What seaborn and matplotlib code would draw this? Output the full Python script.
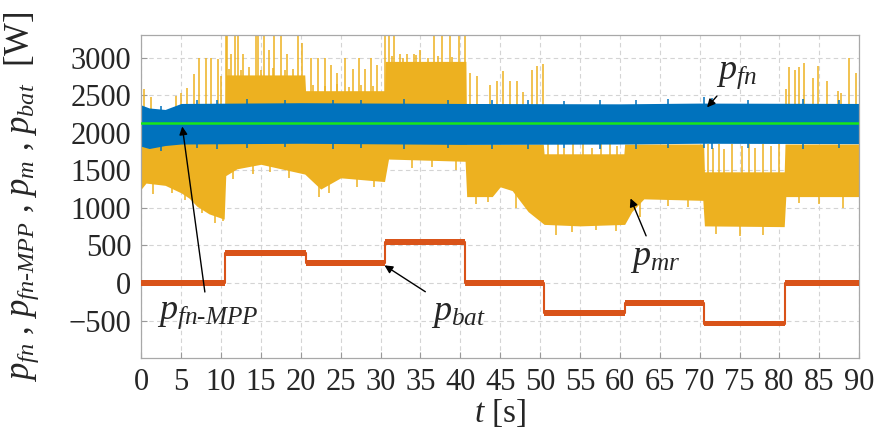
import numpy as np
import pandas as pd
import seaborn as sns
import matplotlib.pyplot as plt

# Values (time in s, power in W)
# battery power: step levels between switching instants
bat_t = [0, 10.5, 20.6, 30.5, 40.6, 50.5, 60.6, 70.6, 80.7, 90]
bat_level = [0, 400, 265, 545, 0, -400, -265, -540, 0, 0]
bat_noise = 35

# fuel-cell MPP reference
mpp_value = 2125

# fuel-cell power band (envelope of the noisy trace)
fn_t = [0, 1, 3, 5, 20, 40, 60, 70, 90]
fn_upper = [2370, 2330, 2310, 2390, 2400, 2390, 2385, 2395, 2390]
fn_lower = [1820, 1790, 1830, 1850, 1860, 1845, 1850, 1860, 1855]
# ragged edges of the fuel-cell band
fn_fuzz_t = [2.5, 7.0, 9.5, 13.2, 18.0, 24.0, 27.5, 33.0, 38.5, 44.0, 48.5, 53.0,
             57.5, 62.0, 66.0, 70.5, 71.5, 76.0, 83.0, 87.5]
fn_fuzz_top = [2350, 2430, 2440, 2450, 2430, 2440, 2430, 2450, 2440, 2440, 2430, 2420,
               2430, 2440, 2450, 2470, 2460, 2440, 2450, 2440]
fn_fuzz_bot = [1760, 1800, 1790, 1800, 1810, 1790, 1800, 1790, 1800, 1790, 1780, 1800,
               1790, 1780, 1800, 1800, 1790, 1800, 1790, 1800]

# motor power band (envelope of the noisy trace)
mr_t = [0, 0.6, 3, 5, 6, 7, 8.5, 10.4, 10.6, 12, 15, 20.5, 22.5, 25, 30.5, 31,
        40.6, 40.8, 44, 45, 46.5, 48.5, 50.5, 55, 60.6, 61.5, 63, 70.4, 70.6,
        80.6, 80.8, 90]
mr_lower = [1250, 1330, 1300, 1200, 1130, 1020, 920, 850, 1430, 1520, 1580, 1450,
            1250, 1400, 1350, 1650, 1620, 1150, 1150, 1280, 1230, 950, 780, 760,
            780, 950, 1120, 1100, 760, 750, 1150, 1150]
mr_up_t = [0, 10.5, 10.6, 20.5, 20.6, 30.5, 30.6, 40.7, 40.8, 50.4, 50.5, 60.5,
           60.6, 70.5, 70.6, 80.6, 80.7, 90]
mr_upper = [2250, 2250, 2770, 2770, 2560, 2560, 2950, 2950, 1850, 1850, 1720, 1720,
            1850, 1850, 1480, 1480, 1850, 1850]

# spikes of the motor power above the band
spike_t = [0.4, 1.25, 4.4, 5.0, 5.8, 6.6, 7.3, 8.1, 8.75, 9.6, 10.0,
           10.6, 10.8, 11.25, 11.7, 12.1, 12.7, 14.4, 14.7, 15.4, 16.0, 16.7, 17.5, 18.3, 19.6, 20.1,
           21.25, 22.1, 23.1, 23.75, 24.6, 25.6, 26.5, 27.3, 28.1, 28.75, 29.6,
           30.6, 31.0, 31.7, 32.5, 33.3, 34.2, 35.0, 36.7, 37.7, 38.75, 39.8, 40.6,
           41.25, 42.1, 43.75, 44.6, 45.4, 46.25, 47.1, 47.9, 49.0, 49.6, 50.4,
           80.8, 81.25, 81.9, 82.5, 83.1, 84.2, 84.8, 86.0, 87.3, 87.7, 88.75, 89.6]
spike_top = [2580, 2470, 2490, 2530, 2600, 2780, 3000, 3000, 3000, 2980, 2760,
             3300, 3300, 3050, 3300, 3300, 3050, 3300, 3300, 3300, 3100, 3300, 3300, 3050, 3300, 3200,
             3000, 3000, 3000, 2900, 2800, 3000, 2850, 3000, 2850, 3000, 2900,
             3300, 3300, 3300, 3050, 3050, 3050, 3100, 3300, 3300, 3300, 3300, 3300,
             2800, 2760, 2640, 2690, 2820, 2690, 2690, 2540, 2840, 2890, 2910,
             2580, 2870, 2840, 2870, 2930, 2730, 2890, 2690, 2560, 2530, 3000, 2800]

# ragged top edge of the motor band where it sits above the fuel-cell band
top_fuzz_t = [11.0, 12.5, 13.5, 15.0, 16.5, 18.0, 19.0, 21.5, 23.0, 24.5, 26.0, 27.5,
              29.0, 31.5, 32.8, 34.5, 36.0, 37.2, 39.0]
top_fuzz = [2850, 2830, 2880, 2840, 2860, 2830, 2850, 2640, 2620, 2650, 2610, 2640,
            2620, 3020, 3000, 3030, 3000, 3020, 3010]

# spikes of the motor power filling the gap up to the fuel-cell band
gap_t = [51.0, 52.2, 53.0, 54.1, 55.4, 56.5, 57.6, 58.8, 59.7,
         71.0, 71.7, 72.4, 73.0, 74.0, 75.3, 76.2, 77.0, 78.0, 79.0, 80.0]
gap_top = [1850, 1850, 1800, 1850, 1850, 1800, 1850, 1850, 1820,
           1850, 1800, 1850, 1780, 1850, 1820, 1850, 1800, 1850, 1830, 1850]

# dips of the motor power below the band
dip_t = [1.5, 3.8, 5.5, 7.6, 9.2, 10.3, 11.5, 14.0, 16.2, 18.5, 22.3, 23.5, 27.0, 29.2,
         34.0, 36.5, 39.5, 42.0, 43.5, 47.0, 52.0, 54.0, 57.0, 59.5, 62.5, 66.0, 68.5,
         72.0, 75.0, 78.0, 82.5, 85.0, 88.0]
dip_low = [1180, 1200, 1100, 930, 800, 820, 1380, 1450, 1480, 1400, 1150, 1200, 1280, 1280,
           1530, 1550, 1500, 1050, 1080, 1000, 640, 680, 700, 690, 880, 1020, 1010,
           650, 620, 640, 1060, 1050, 1000]

x_ticks = list(range(0, 91, 5))
y_ticks = [-500, 0, 500, 1000, 1500, 2000, 2500, 3000]

c_fn = '#0072BD'
c_mr = '#EDB120'
c_bat = '#D95319'
c_mpp = '#19E619'

sns.set_style('whitegrid')
plt.rcParams['font.family'] = 'serif'
plt.rcParams['font.serif'] = ['Liberation Serif', 'DejaVu Serif']
plt.rcParams['mathtext.fontset'] = 'custom'
plt.rcParams['mathtext.rm'] = 'Liberation Serif'
plt.rcParams['mathtext.it'] = 'Liberation Serif:italic'

fig = plt.figure(figsize=(8.77, 4.41), dpi=100)
ax = fig.add_axes([0.161, 0.188, 0.8187, 0.7324])

# motor power p_mr
t_all = np.union1d(mr_t, mr_up_t)
ax.fill_between(t_all, np.interp(t_all, mr_t, mr_lower), np.interp(t_all, mr_up_t, mr_upper),
                color=c_mr, lw=0, zorder=1)
ax.vlines(spike_t, 2300, spike_top, color=c_mr, lw=1.1, zorder=1)
ax.vlines(top_fuzz_t, 2500, top_fuzz, color=c_mr, lw=1.1, zorder=1)
ax.vlines(gap_t, 1400, gap_top, color=c_mr, lw=1.1, zorder=1)
ax.vlines(dip_t, np.array(dip_low) + 250, dip_low, color=c_mr, lw=1.1, zorder=1)

# fuel-cell power p_fn
ax.fill_between(fn_t, fn_lower, fn_upper, color=c_fn, lw=0, zorder=2)
ax.vlines(fn_fuzz_t, 2100, fn_fuzz_top, color=c_fn, lw=1.1, zorder=2)
ax.vlines(fn_fuzz_t, fn_fuzz_bot, 2100, color=c_fn, lw=1.1, zorder=2)

# MPP reference
mpp = pd.DataFrame({'t': [0, 90], 'p': [mpp_value, mpp_value]})
sns.lineplot(data=mpp, x='t', y='p', color=c_mpp, lw=1.8, ax=ax, zorder=3)

# battery power p_bat
bat = pd.DataFrame({'t': bat_t, 'p': bat_level})
ax.fill_between(bat['t'], bat['p'] - bat_noise, bat['p'] + bat_noise, step='post',
                color=c_bat, lw=0, zorder=3)
sns.lineplot(data=bat, x='t', y='p', color=c_bat, lw=1.5, drawstyle='steps-post',
             ax=ax, zorder=3)

ax.set_xlim(0, 90)
ax.set_ylim(-1000, 3300)
ax.set_xticks(x_ticks)
ax.set_yticks(y_ticks)
ax.set_yticklabels(['\u2212500' if v < 0 else str(v) for v in y_ticks])
ax.tick_params(axis='both', labelsize=22, direction='in', length=4, color='#999999',
               bottom=True, left=True, pad=7)
ax.grid(True, color='#d4d4d4', ls=(0, (4, 3)), lw=0.8)
for s in ax.spines.values():
    s.set_color('#a8a8a8')
    s.set_linewidth(0.9)

ax.set_xlabel(r'$t$ [s]', fontsize=24, labelpad=0)
ax.set_ylabel(r'$p_{fn}$ , $p_{fn\text{-}MPP}$ , $p_{m}$ , $p_{bat}$  [W]', fontsize=25)
ax.yaxis.set_label_coords(-0.14, 0.5)

arrow = dict(arrowstyle='-|>', color='black', lw=1.0, mutation_scale=12)
ax.annotate(r'$p_{fn}$', xy=(70.7, 2310), xytext=(72.0, 2780), fontsize=26,
            arrowprops=arrow, ha='left', va='center')
ax.annotate(r'$p_{mr}$', xy=(61.2, 1160), xytext=(61.3, 330), fontsize=26,
            arrowprops=arrow, ha='left', va='center')
ax.annotate(r'$p_{bat}$', xy=(30.2, 255), xytext=(36.3, -400), fontsize=26,
            arrowprops=arrow, ha='left', va='center')
ax.annotate(r'$p_{fn\text{-}MPP}$', xy=(5.1, 2120), xytext=(2.0, -420), fontsize=26,
            arrowprops=arrow, ha='left', va='center')

fig.savefig('out.png', dpi=100)
